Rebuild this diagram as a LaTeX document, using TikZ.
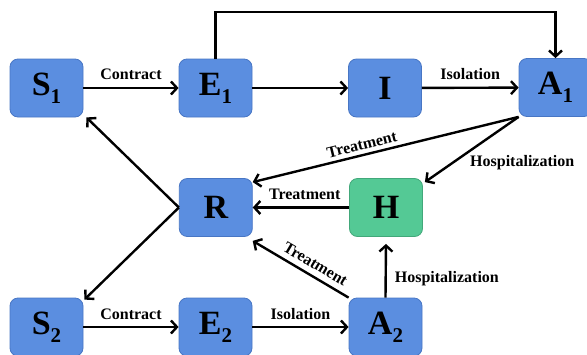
\documentclass[tikz,border=0pt]{standalone}
\usepackage{fontspec}
\setmainfont{Liberation Serif}
\usetikzlibrary{arrows.meta}
\definecolor{boxblue}{RGB}{91,142,224}
\definecolor{boxblueline}{RGB}{72,118,196}
\definecolor{boxgreen}{RGB}{84,201,149}
\definecolor{boxgreenline}{RGB}{66,168,122}
\newcommand\boxsub[1]{\raisebox{-8pt}{\fontsize{21}{21}\selectfont #1}}
\begin{document}
\begin{tikzpicture}[x=1pt,y=-1pt,
  box/.style={draw=boxblueline, line width=0.8pt, fill=boxblue, rounded corners=8pt,
    minimum width=73pt, minimum height=58pt, inner sep=0pt,
    font=\fontsize{34}{34}\selectfont\bfseries},
  hbox/.style={box, fill=boxgreen, draw=boxgreenline},
  conn/.style={line width=2.4pt, -{Straight Barb[length=6pt,width=13pt]}},
  revconn/.style={line width=2.4pt, {Straight Barb[length=6pt,width=13pt]}-},
  lab/.style={font=\fontsize{16}{16}\selectfont\bfseries, inner sep=1pt}]
\useasboundingbox (0,0) rectangle (587,354);
\clip (0,0) rectangle (587,354);
\node[box] (S1) at (46.5,88) {S\boxsub{1}};
\node[box] (E1) at (215.5,88) {E\boxsub{1}};
\node[box] (I) at (385,88) {I};
\node[box] (A1) at (555.5,87.5) {A\boxsub{1}};
\node[box] (R) at (215.8,207.5) {R};
\node[hbox] (H) at (386,207.5) {H};
\node[box] (S2) at (46.5,327) {S\boxsub{2}};
\node[box] (E2) at (215.5,327) {E\boxsub{2}};
\node[box] (A2) at (385.5,327) {A\boxsub{2}};
\coordinate (top) at (0,12);
% top row
\draw[conn] (S1) -- node[lab, above=6pt]{Contract} (E1);
\draw[conn] (E1) -- (I);
\draw[conn] (I) -- node[lab, above=6pt]{Isolation} (A1);
\draw[conn] (E1.north) -- (E1.north |- top) -| (A1.north);
% middle
\draw[revconn] ([yshift=-4pt]R.north east) -- node[lab, sloped, above=3pt, pos=0.42]{Treatment} (A1.south west);
\draw[conn] (A1.south west) -- node[lab, right=15pt, pos=0.7]{Hospitalization} ([xshift=2pt,yshift=-4pt]H.north east);
\draw[conn] (H) -- node[lab, above=6pt, pos=0.46]{Treatment} (R);
\draw[revconn] ([yshift=-4pt]R.south east) -- node[lab, sloped, above=4.5pt, pos=0.59]{Treatment} (A2.north west);
\draw[conn] (A2.north) -- node[lab, right=7pt, pos=0.35]{Hospitalization} ([yshift=-7pt]H.south);
\draw[conn] (R.west) -- ([xshift=3pt]S1.south east);
\draw[conn] (R.west) -- ([xshift=1pt,yshift=-2pt]S2.north east);
% bottom row
\draw[conn] (S2) -- node[lab, above=5pt]{Contract} (E2);
\draw[conn] (E2) -- node[lab, above=5pt]{Isolation} (A2);
\end{tikzpicture}
\end{document}
